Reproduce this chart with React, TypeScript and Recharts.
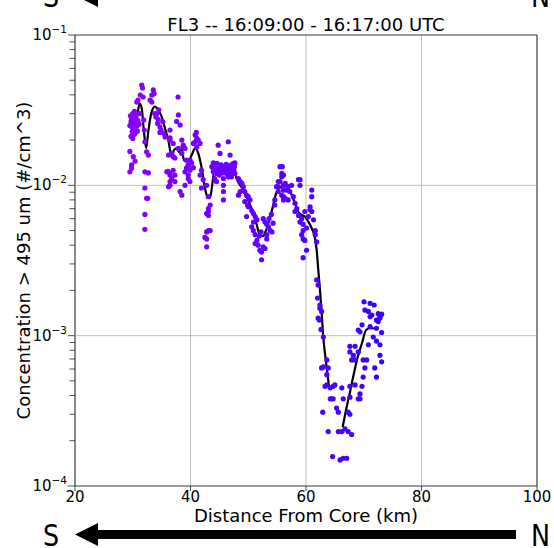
import React from "react";
import {
  ComposedChart,
  Scatter,
  Line,
  XAxis,
  YAxis,
  CartesianGrid,
  ReferenceLine,
  ReferenceArea,
} from "recharts";

const FONT = "DejaVu Sans";
const TITLE = "FL3 -- 16:09:00 - 16:17:00 UTC";
const X_LABEL = "Distance From Core (km)";
const Y_LABEL = "Concentration > 495 um (#/cm^3)";

const X_TICKS = [20, 40, 60, 80, 100];
const Y_TICKS = [
  1e-4, 2e-4, 3e-4, 4e-4, 5e-4, 6e-4, 7e-4, 8e-4, 9e-4,
  1e-3, 2e-3, 3e-3, 4e-3, 5e-3, 6e-3, 7e-3, 8e-3, 9e-3,
  1e-2, 2e-2, 3e-2, 4e-2, 5e-2, 6e-2, 7e-2, 8e-2, 9e-2,
  1e-1,
];

// [distance km, concentration #/cm^3] for every measured sample
const SAMPLES: [number, number][] = [
  [29.5, 0.025], [29.6, 0.029], [29.7, 0.0265], [29.7, 0.0212], [29.8, 0.0245], [29.8, 0.0275],
  [29.9, 0.0228], [30.0, 0.03], [30.0, 0.0205], [30.1, 0.0275], [30.2, 0.0255], [30.2, 0.0218],
  [30.3, 0.0238], [30.3, 0.031], [30.4, 0.0222], [30.5, 0.0285], [30.6, 0.0265], [30.6, 0.03],
  [30.7, 0.0248], [30.7, 0.0358], [30.8, 0.023], [30.9, 0.027], [30.9, 0.0369], [31.1, 0.0255],
  [31.2, 0.03], [31.3, 0.0399], [31.55, 0.0465], [31.7, 0.0444], [31.8, 0.0387],
  [29.5, 0.0168], [30.1, 0.0155], [29.8, 0.0137], [29.8, 0.013], [29.5, 0.0123], [30.4, 0.0145],
  [31.9, 0.0272], [32.0, 0.0233], [32.1, 0.0195], [32.4, 0.0167], [32.7, 0.0159], [32.1, 0.0123],
  [32.7, 0.0121], [32.1, 0.0096], [32.4, 0.0082], [32.6, 0.0082], [32.1, 0.0064], [32.1, 0.0051],
  [33.0, 0.0369], [33.3, 0.0358], [33.3, 0.0399], [33.56, 0.0431], [33.7, 0.0407], [33.8, 0.03],
  [34.0, 0.0285], [34.2, 0.03], [34.3, 0.0258], [34.4, 0.0275], [34.5, 0.0318], [34.7, 0.0245],
  [34.7, 0.0225], [34.9, 0.0233], [35.2, 0.0265], [35.4, 0.0222], [35.6, 0.021],
  [36.45, 0.0233], [36.45, 0.0207], [37.6, 0.0266], [37.84, 0.0387], [37.9, 0.0294], [38.2, 0.0252],
  [36.45, 0.02], [37.0, 0.019], [36.75, 0.0163], [36.2, 0.0159], [37.3, 0.0152], [35.9, 0.0123],
  [36.45, 0.012], [37.3, 0.0117], [37.0, 0.0126], [36.45, 0.0106], [36.2, 0.0098], [36.45, 0.0117],
  [36.75, 0.0111], [37.3, 0.0106], [36.45, 0.01], [36.1, 0.0124], [37.0, 0.0155],
  [38.5, 0.02], [38.75, 0.0185], [39.05, 0.0176], [39.3, 0.013], [39.6, 0.0117], [39.05, 0.01],
  [37.9, 0.0176], [38.75, 0.0179], [38.5, 0.0163], [39.3, 0.0147], [39.6, 0.0137], [39.9, 0.0126],
  [39.05, 0.0123], [38.2, 0.0091], [38.5, 0.0086], [39.6, 0.0111], [39.9, 0.0106],
  [40.8, 0.0216], [41.1, 0.0205], [40.5, 0.019], [41.1, 0.018], [41.35, 0.02], [40.8, 0.0195],
  [41.0, 0.0225], [41.65, 0.019], [39.9, 0.0147], [40.2, 0.0141], [39.6, 0.0134], [40.5, 0.0131],
  [41.9, 0.0126], [41.65, 0.0117], [42.2, 0.0109], [41.9, 0.0096],
  [43.1, 0.0084], [43.1, 0.0067], [42.8, 0.0049], [43.1, 0.005], [43.4, 0.0074], [43.1, 0.007],
  [43.1, 0.0063], [43.4, 0.005], [42.8, 0.0044], [42.8, 0.0039], [42.8, 0.01], [42.8, 0.0065],
  [42.5, 0.0045],
  [43.7, 0.0133], [43.95, 0.0123], [43.95, 0.0141], [44.0, 0.0126], [44.24, 0.0133], [44.2, 0.0135],
  [44.4, 0.0128], [44.5, 0.012], [44.6, 0.014], [44.8, 0.0185], [44.9, 0.013], [45.0, 0.0117],
  [45.1, 0.0124], [45.1, 0.0163], [45.3, 0.0137], [45.5, 0.0129], [45.7, 0.0121], [45.8, 0.0133],
  [46.0, 0.0126], [46.2, 0.0138], [46.4, 0.0118], [46.5, 0.0131], [46.55, 0.0195], [46.7, 0.0125],
  [46.85, 0.0159], [47.0, 0.0135], [47.1, 0.0122], [47.1, 0.0137], [47.2, 0.0129], [47.4, 0.014],
  [47.4, 0.0126], [47.5, 0.0127], [47.6, 0.0133], [47.7, 0.0141], [47.7, 0.012],
  [45.7, 0.01], [45.7, 0.0091], [45.7, 0.008], [44.5, 0.0106], [44.2, 0.0111], [46.55, 0.0114],
  [45.7, 0.0111], [47.1, 0.0114],
  [48.3, 0.0111], [48.6, 0.0106], [48.9, 0.0103], [49.15, 0.0098], [48.3, 0.0086], [48.6, 0.0091],
  [49.4, 0.0091], [49.7, 0.0086], [50.0, 0.0084], [50.3, 0.008], [49.4, 0.0078], [50.0, 0.0072],
  [50.6, 0.0068], [49.7, 0.0062], [49.1, 0.0093], [49.9, 0.0074],
  [50.9, 0.0065], [51.2, 0.0062], [51.5, 0.0059], [50.9, 0.0057], [50.6, 0.0053], [50.9, 0.005],
  [51.2, 0.0047], [51.5, 0.0043], [51.2, 0.0041], [51.7, 0.004], [52.0, 0.0037], [52.3, 0.0036],
  [52.3, 0.0032], [51.9, 0.0046], [52.2, 0.0049],
  [52.6, 0.006], [52.9, 0.0057], [53.2, 0.0055], [53.5, 0.0053], [53.8, 0.005], [54.1, 0.0049],
  [54.3, 0.0056], [53.2, 0.0047], [53.2, 0.0044], [52.6, 0.0039], [52.9, 0.0038], [53.6, 0.006],
  [54.0, 0.0064],
  [54.6, 0.008], [54.6, 0.0074], [54.9, 0.0098], [55.2, 0.0098], [55.2, 0.0091], [55.2, 0.0106],
  [55.5, 0.0106], [55.5, 0.0133], [55.8, 0.0114], [55.8, 0.0086], [55.8, 0.012], [55.9, 0.0133],
  [56.1, 0.0093], [56.1, 0.01], [56.1, 0.0117], [56.1, 0.008], [56.1, 0.0084], [56.4, 0.0082],
  [56.4, 0.0103], [56.65, 0.0093], [56.9, 0.0098], [56.9, 0.008], [57.2, 0.0091], [57.5, 0.01],
  [58.7, 0.0109], [58.96, 0.0109], [58.96, 0.01],
  [57.8, 0.0084], [58.1, 0.0076], [58.4, 0.007], [58.1, 0.0067], [58.7, 0.0063], [59.25, 0.006],
  [58.96, 0.0057], [59.5, 0.0055], [59.25, 0.0047], [59.5, 0.0044], [59.8, 0.0043], [59.5, 0.005],
  [60.1, 0.0037], [59.5, 0.0033],
  [61.0, 0.0093], [61.0, 0.0084], [60.7, 0.0072], [60.7, 0.0069], [61.0, 0.0067], [61.3, 0.0059],
  [61.6, 0.005], [61.6, 0.0047], [61.85, 0.0042], [60.1, 0.0052], [59.8, 0.0067], [60.4, 0.0062],
  [61.85, 0.00235], [62.1, 0.00217], [62.0, 0.00178], [62.4, 0.0016], [62.4, 0.00152], [62.7, 0.00145],
  [62.1, 0.00131], [62.3, 0.00127], [63.0, 0.00098], [62.6, 0.0011],
  [63.6, 0.00069], [63.85, 0.00061], [63.0, 0.00062], [62.7, 0.00061], [62.9, 0.00031], [63.6, 0.00055],
  [63.3, 0.00046], [63.6, 0.00047], [64.2, 0.00045], [64.7, 0.00046], [65.0, 0.00047], [66.2, 0.00045],
  [67.6, 0.00046], [68.5, 0.00047], [69.7, 0.00046],
  [64.2, 0.00038], [64.45, 0.00038], [64.7, 0.00038], [66.45, 0.00038], [67.6, 0.00039], [69.05, 0.00038],
  [69.35, 0.00038], [69.35, 0.00041],
  [65.3, 0.00033], [65.6, 0.00031], [67.3, 0.00031], [67.6, 0.0003],
  [63.85, 0.00023], [65.6, 0.00023], [66.2, 0.00023], [66.75, 0.00024], [67.3, 0.00023], [67.9, 0.00022],
  [64.6, 0.000157], [65.9, 0.000149], [66.45, 0.000153], [67.05, 0.000153],
  [70.05, 0.00168], [71.1, 0.00164], [71.8, 0.0016], [70.2, 0.00148], [70.8, 0.00145], [71.4, 0.00137],
  [72.5, 0.0014], [73.1, 0.00139], [72.8, 0.00134], [71.1, 0.00134], [72.8, 0.00131], [72.2, 0.00127],
  [72.5, 0.00124], [69.7, 0.00118], [71.1, 0.00115], [72.2, 0.00112], [69.05, 0.00109], [69.35, 0.00106],
  [73.1, 0.00105], [71.65, 0.00098], [72.2, 0.00092], [72.8, 0.00087], [67.6, 0.00085], [68.5, 0.00085],
  [70.8, 0.00087], [67.6, 0.00078], [69.05, 0.00078], [68.2, 0.00074], [68.5, 0.00069], [67.9, 0.00069],
  [69.9, 0.00069], [70.5, 0.00069], [72.8, 0.00074], [73.1, 0.00067], [70.2, 0.00061], [71.9, 0.00061],
  [69.9, 0.00053], [72.2, 0.00053],
];

// smoothed running mean, south segment then north segment (gap between)
const TREND_SOUTH: [number, number][] = [
  [29.82, 0.0228], [30.13, 0.0241], [30.39, 0.0252], [30.74, 0.0281], [31.17, 0.035], [31.55, 0.0327],
  [31.83, 0.0252], [32.33, 0.0177], [32.69, 0.0228], [33.28, 0.0309], [33.85, 0.0334], [34.42, 0.0317],
  [35.01, 0.0286], [35.58, 0.024], [36.16, 0.02], [36.74, 0.0155], [37.14, 0.0172], [37.61, 0.0176],
  [38.06, 0.0166], [38.48, 0.0172], [38.87, 0.0147], [39.62, 0.0145], [40.21, 0.0159], [40.78, 0.0176],
  [41.35, 0.0163], [41.94, 0.013], [42.51, 0.00955], [42.94, 0.0084], [43.38, 0.00827], [43.72, 0.00975],
  [44.07, 0.01227], [44.59, 0.01284], [45.63, 0.0126], [46.84, 0.013], [47.36, 0.01324], [48.05, 0.0109],
  [48.92, 0.0096], [49.96, 0.008], [51.17, 0.00606], [52.03, 0.00467], [52.55, 0.0046], [53.07, 0.005],
  [54.11, 0.00685], [54.93, 0.00907], [55.79, 0.0098], [56.36, 0.01], [56.94, 0.00955], [57.52, 0.00862],
  [58.1, 0.0076], [58.67, 0.00668], [59.26, 0.00635], [59.83, 0.00618], [60.4, 0.00573], [60.99, 0.00518],
  [61.56, 0.00444], [61.85, 0.00371], [62.13, 0.00273], [62.42, 0.00201], [62.68, 0.00148], [62.99, 0.00098],
  [63.46, 0.00067], [63.98, 0.00046],
];
const TREND_NORTH: [number, number][] = [
  [66.35, 0.000247], [66.93, 0.00032], [67.62, 0.000422], [68.31, 0.000564], [69.0, 0.000732],
  [69.7, 0.000894], [70.4, 0.00109], [71.08, 0.00112], [72.24, 0.001116],
];

const sampleData = SAMPLES.map(([x, y]) => ({ x, y }));
const southData = TREND_SOUTH.map(([x, y]) => ({ x, y }));
const northData = TREND_NORTH.map(([x, y]) => ({ x, y }));

// purple (south) to blue (north)
function dotColor(km: number) {
  const t = Math.min(1, Math.max(0, (km - 29) / 45));
  const r = Math.round(140 - t * 85);
  return `rgb(${r},0,255)`;
}

function Dot(props: any) {
  const { cx, cy, payload } = props;
  if (cx == null || cy == null) return null;
  return <circle cx={cx} cy={cy} r={2.6} fill={dotColor(payload.x)} />;
}

function YTick(props: any) {
  const { x, y, payload } = props;
  const v = payload.value;
  const exp = Math.round(Math.log10(v));
  const major = Math.abs(v / Math.pow(10, exp) - 1) < 1e-6;
  return (
    <g>
      <line x1={x - (major ? 7 : 5.5)} x2={x} y1={y} y2={y} stroke="#222" strokeWidth={0.8} />
      {major && (
        <text x={x - 8} y={y + 5} textAnchor="end" fontFamily={FONT} fontSize={15} fill="#000">
          <tspan>10</tspan>
          <tspan dy={-7} fontSize={10.5}>{"\u2212" + -exp}</tspan>
        </text>
      )}
    </g>
  );
}

function XTick(props: any) {
  const { x, y, payload } = props;
  return (
    <g>
      <line x1={x} x2={x} y1={y} y2={y + 5} stroke="#222" strokeWidth={0.8} />
      <text x={x} y={y + 16} textAnchor="middle" fontFamily={FONT} fontSize={15} fill="#000">
        {payload.value}
      </text>
    </g>
  );
}

function Arrow({ dy }: { dy: number }) {
  return (
    <g transform={`translate(0,${dy})`}>
      <text transform="translate(43,546) scale(0.82,1)" fontFamily={FONT} fontSize={31} fill="#000">S</text>
      <polygon points="75,534.5 98,523 98,546" fill="#000" />
      <rect x={97} y={530} width={419} height={9} fill="#000" />
      <text transform="translate(531,546) scale(0.82,1)" fontFamily={FONT} fontSize={31} fill="#000">N</text>
    </g>
  );
}

export default function App() {
  return (
    <div style={{ position: "absolute", left: 0, top: 0, width: 554, height: 548, background: "#fff" }}>
      <ComposedChart
        width={554}
        height={548}
        margin={{ top: 35, right: 17, bottom: 0, left: 0 }}
      >
        <CartesianGrid horizontal={false} stroke="#b0b0b0" strokeWidth={0.8} />
        <XAxis
          dataKey="x"
          type="number"
          domain={[20, 100]}
          ticks={X_TICKS}
          allowDataOverflow
          height={62}
          axisLine={false}
          tickLine={false}
          tickSize={0}
          tickMargin={0}
          tick={XTick}
          interval={0}
        />
        <YAxis
          dataKey="y"
          type="number"
          scale="log"
          domain={[1e-4, 1e-1]}
          ticks={Y_TICKS}
          allowDataOverflow
          width={75}
          axisLine={false}
          tickLine={false}
          tickSize={0}
          tickMargin={0}
          tick={YTick}
          interval={0}
        />
        <ReferenceLine y={1e-2} stroke="#b0b0b0" strokeWidth={0.8} />
        <ReferenceLine y={1e-3} stroke="#b0b0b0" strokeWidth={0.8} />
        <Scatter data={sampleData} shape={Dot} isAnimationActive={false} />
        <Line
          data={southData}
          dataKey="y"
          type="monotone"
          stroke="#000"
          strokeWidth={2.2}
          dot={false}
          isAnimationActive={false}
        />
        <Line
          data={northData}
          dataKey="y"
          type="monotone"
          stroke="#000"
          strokeWidth={2.2}
          dot={false}
          isAnimationActive={false}
        />
        <ReferenceArea x1={20} x2={100} y1={1e-4} y2={1e-1} fill="none" stroke="#222" strokeWidth={0.9} />
      </ComposedChart>
      <svg
        width={554}
        height={548}
        style={{ position: "absolute", left: 0, top: 0, pointerEvents: "none" }}
      >
        <text x={306} y={31} textAnchor="middle" fontFamily={FONT} fontSize={18} fill="#000">
          {TITLE}
        </text>
        <text x={306} y={522} textAnchor="middle" fontFamily={FONT} fontSize={18} fill="#000">
          {X_LABEL}
        </text>
        <text
          transform="translate(30,260.5) rotate(-90)"
          textAnchor="middle"
          fontFamily={FONT}
          fontSize={18}
          fill="#000"
        >
          {Y_LABEL}
        </text>
        <Arrow dy={0} />
        <Arrow dy={-539} />
      </svg>
    </div>
  );
}
